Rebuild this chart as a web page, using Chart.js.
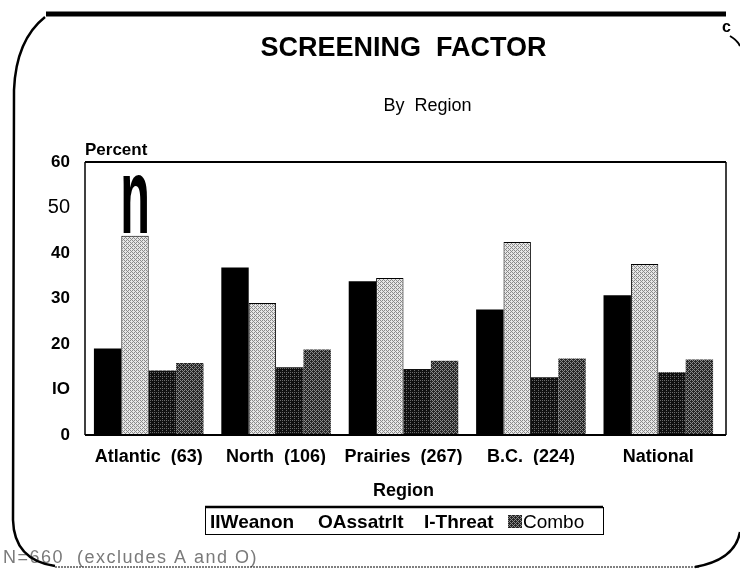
<!DOCTYPE html>
<html>
<head>
<meta charset="utf-8">
<script src="https://cdn.jsdelivr.net/npm/chart.js@4/dist/chart.umd.min.js"></script>
<style>
html,body{margin:0;padding:0;background:#fff;}
#wrap{position:relative;width:740px;height:570px;}
canvas{display:block;}
</style>
</head>
<body>
<div id="wrap"><canvas id="c" width="740" height="570"></canvas></div>
<script>
// ---- data ----
const categories = ['Atlantic  (63)', 'North  (106)', 'Prairies  (267)', 'B.C.  (224)', 'National'];
const weaponValues  = [19.0, 36.8, 33.8, 27.6, 30.7];
const assaultValues = [43.8, 29.0, 34.5, 42.4, 37.6];
const threatValues  = [14.2, 14.9, 14.5, 12.7, 13.8];
const comboValues   = [15.8, 18.8, 16.3, 16.8, 16.6];
const seriesLabels  = ['IIWeanon', 'OAssatrlt', 'I-Threat', 'Combo'];
const yTickValues   = [0, 10, 20, 30, 40, 50, 60];
const yTickLabels   = ['0', 'IO', '20', '30', '40', '50', '60'];
const titleText     = 'SCREENING  FACTOR';
const subtitleText  = 'By  Region';
const yAxisText     = 'Percent';
const xAxisText     = 'Region';
const footText      = 'N=660  (excludes A and O)';

// ---- stipple patterns (ordered dither, deterministic) ----
const bayer = [[0,8,2,10],[12,4,14,6],[3,11,1,9],[15,7,13,5]];
function stipple(base, dot, level) {
  const c = document.createElement('canvas');
  c.width = 4; c.height = 4;
  const g = c.getContext('2d');
  for (let y = 0; y < 4; y++) for (let x = 0; x < 4; x++) {
    g.fillStyle = bayer[y][x] < level ? dot : base;
    g.fillRect(x, y, 1, 1);
  }
  return g.createPattern(c, 'repeat');
}
const assaultFill = stipple('#e6e6e6', '#8a8a8a', 6);
const threatFill  = stipple('#101010', '#6a6a6a', 3);
const comboFill   = stipple('#262626', '#8a8a8a', 6);
const fills = ['#000000', assaultFill, threatFill, comboFill];

const SANS = '"Liberation Sans", Arial, Helvetica, sans-serif';

// ---- decoration plugin ----
const deco = {
  id: 'deco',
  afterDraw(chart) {
    const ctx = chart.ctx;
    const a = chart.chartArea;
    ctx.save();
    // frame around plot
    ctx.strokeStyle = '#000';
    ctx.lineWidth = 2;
    ctx.beginPath(); ctx.moveTo(a.left, a.top); ctx.lineTo(a.right + 4, a.top); ctx.stroke();
    ctx.lineWidth = 1.5;
    ctx.beginPath(); ctx.moveTo(a.right + 4, a.top); ctx.lineTo(a.right + 4, a.bottom); ctx.stroke();
    ctx.beginPath(); ctx.moveTo(a.left, a.top); ctx.lineTo(a.left, a.bottom); ctx.stroke();
    ctx.lineWidth = 2;
    ctx.beginPath(); ctx.moveTo(a.left, a.bottom); ctx.lineTo(a.right + 4, a.bottom); ctx.stroke();

    const cx = (a.left + a.right) / 2;
    ctx.fillStyle = '#000';
    ctx.textAlign = 'center';
    ctx.textBaseline = 'alphabetic';
    ctx.font = 'bold 27px ' + SANS;
    ctx.fillText(titleText, cx, 56);
    ctx.font = '18px ' + SANS;
    ctx.fillText(subtitleText, cx + 24, 111);
    ctx.textAlign = 'left';
    ctx.font = 'bold 17px ' + SANS;
    ctx.fillText(yAxisText, a.left, 155);
    ctx.textAlign = 'center';
    ctx.font = 'bold 18px ' + SANS;
    ctx.fillText(xAxisText, cx, 496);

    // stray "n" glyph above first assault bar
    const bar = chart.getDatasetMeta(1).data[0];
    ctx.save();
    ctx.translate(bar.x, bar.y - 3);
    ctx.scale(0.45, 1);
    ctx.font = 'bold 108px ' + SANS;
    ctx.fillText('n', 0, 0);
    ctx.restore();

    // legend box
    const lx = 205, ly = 507, lw = 398, lh = 27;
    ctx.fillStyle = '#fff';
    ctx.fillRect(lx, ly, lw, lh);
    ctx.strokeStyle = '#000';
    ctx.lineWidth = 1;
    ctx.strokeRect(lx + 0.5, ly + 0.5, lw, lh);
    ctx.lineWidth = 2.5;
    ctx.beginPath(); ctx.moveTo(lx, ly); ctx.lineTo(lx + lw, ly); ctx.stroke();
    ctx.fillStyle = '#000';
    ctx.textAlign = 'left';
    ctx.font = 'bold 19px ' + SANS;
    const ty = ly + 21;
    ctx.fillText(chart.data.datasets[0].label, 210, ty);
    ctx.fillText(chart.data.datasets[1].label, 318, ty);
    ctx.fillText(chart.data.datasets[2].label, 424, ty);
    ctx.fillStyle = chart.data.datasets[3].backgroundColor;
    ctx.fillRect(508, ly + 8, 14, 13);
    ctx.fillStyle = '#000';
    ctx.font = '19px ' + SANS;
    ctx.fillText(chart.data.datasets[3].label, 523, ty);

    // footnote
    ctx.font = '18px ' + SANS;
    ctx.letterSpacing = '1.5px';
    ctx.fillStyle = '#7a7a7a';
    ctx.fillText(footText, 3, 563);
    ctx.letterSpacing = '0px';
    ctx.fillStyle = '#000';
    ctx.font = 'bold 16px ' + SANS;
    ctx.fillText('c', 722, 32);

    // page frame
    ctx.strokeStyle = '#000';
    ctx.lineWidth = 5;
    ctx.beginPath(); ctx.moveTo(46, 14); ctx.lineTo(726, 14); ctx.stroke();
    ctx.lineWidth = 2.5;
    ctx.beginPath();
    ctx.moveTo(45, 17);
    ctx.quadraticCurveTo(16, 40, 14, 90);
    ctx.lineTo(13, 520);
    ctx.quadraticCurveTo(14, 560, 55, 566);
    ctx.stroke();
    ctx.lineWidth = 1;
    ctx.setLineDash([2, 1]);
    ctx.beginPath(); ctx.moveTo(55, 567); ctx.lineTo(700, 567); ctx.stroke();
    ctx.setLineDash([]);
    ctx.lineWidth = 2.5;
    ctx.beginPath();
    ctx.moveTo(695, 567);
    ctx.quadraticCurveTo(735, 560, 740, 532);
    ctx.stroke();
    ctx.lineWidth = 2;
    ctx.beginPath();
    ctx.moveTo(730, 36);
    ctx.quadraticCurveTo(737, 40, 740, 46);
    ctx.stroke();
    ctx.restore();
  }
};

new Chart(document.getElementById('c'), {
  type: 'bar',
  data: {
    labels: categories,
    datasets: [
      { label: seriesLabels[0], data: weaponValues,  backgroundColor: fills[0], borderWidth: 0 },
      { label: seriesLabels[1], data: assaultValues, backgroundColor: fills[1], borderColor: '#000', borderWidth: 1 },
      { label: seriesLabels[2], data: threatValues,  backgroundColor: fills[2], borderWidth: 0 },
      { label: seriesLabels[3], data: comboValues,   backgroundColor: fills[3], borderWidth: 0 }
    ]
  },
  options: {
    responsive: false,
    animation: false,
    devicePixelRatio: 1,
    layout: { padding: { left: 25, right: 18, top: 162, bottom: 105 } },
    plugins: { legend: { display: false }, title: { display: false }, tooltip: { enabled: false } },
    datasets: { bar: { categoryPercentage: 0.86, barPercentage: 1.0 } },
    scales: {
      x: {
        grid: { display: false, drawTicks: false },
        border: { display: false },
        ticks: { color: '#000', font: { family: SANS, size: 18, weight: 'bold' }, padding: 11, maxRotation: 0, autoSkip: false },
        afterFit(s) { s.height = 30; }
      },
      y: {
        min: 0, max: 60,
        afterBuildTicks(s) { s.ticks = yTickValues.map(v => ({ value: v })); },
        grid: { display: false, drawTicks: false },
        border: { display: false },
        ticks: {
          color: '#000',
          padding: 15,
          font(ctx) {
            if (ctx.tick && ctx.tick.value === 50) return { family: SANS, size: 20, weight: 'normal' };
            return { family: SANS, size: 17, weight: 'bold' };
          },
          callback(v) { const i = yTickValues.indexOf(v); return i >= 0 ? yTickLabels[i] : ''; }
        },
        afterFit(s) { s.width = 60; }
      }
    }
  },
  plugins: [deco]
});
</script>
</body>
</html>
